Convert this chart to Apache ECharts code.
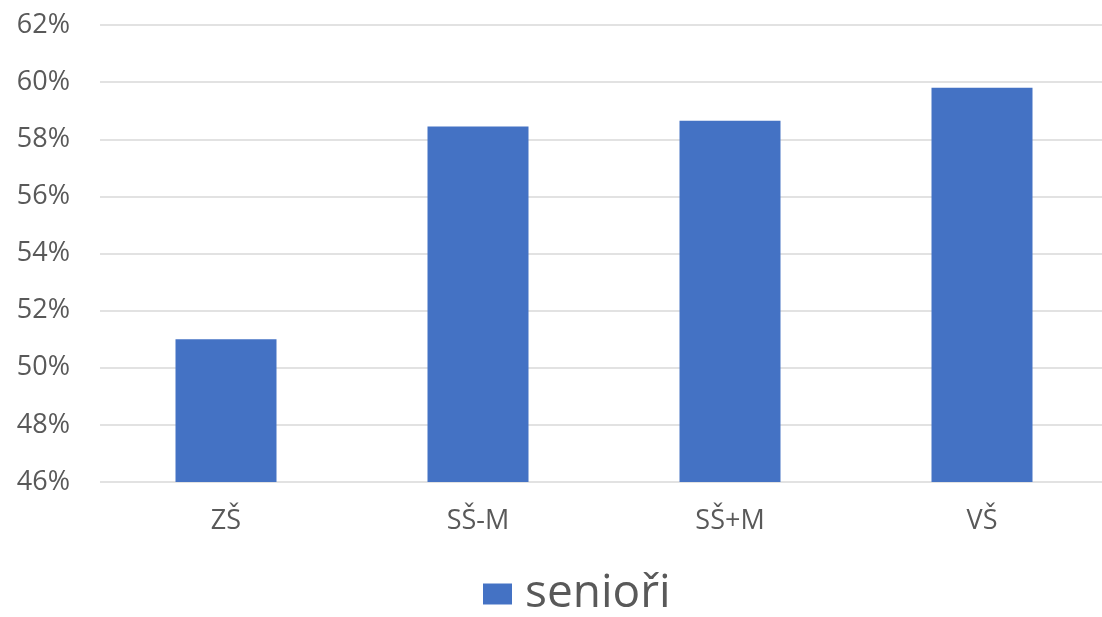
<!DOCTYPE html>
<html>
<head>
<meta charset="utf-8">
<script src="https://cdn.jsdelivr.net/npm/echarts@6/dist/echarts.min.js"></script>
<style>
  html, body { margin: 0; padding: 0; background: #ffffff; }
  #chart { width: 1102px; height: 617px; }
</style>
</head>
<body>
<div id="chart"></div>
<script>
  // kategorie podle vzdělání
  const categories = ['ZŠ', 'SŠ-M', 'SŠ+M', 'VŠ']
  // podíl seniorů (v %)
  const seniori = [51.0, 58.45, 58.65, 59.8]
  const seriesName = 'senioři'
  const yMin = 46
  const yMax = 62
  const yStep = 2

  const chart = echarts.init(document.getElementById('chart'))
  const labelFont = '"Open Sans", "DejaVu Sans", sans-serif'

  chart.setOption({
    animation: false,
    color: ['#4472C4'],
    grid: {
      left: 100,
      top: 25,
      width: 1008,
      height: 457,
      outerBoundsMode: 'none'
    },
    legend: {
      data: [seriesName],
      top: 566,
      left: 478,
      itemWidth: 29,
      itemHeight: 21,
      icon: 'rect',
      textStyle: {
        fontSize: 46,
        color: '#595959',
        fontFamily: labelFont,
        padding: [4, 0, 0, 8]
      }
    },
    xAxis: {
      type: 'category',
      data: categories,
      axisLine: { show: false },
      axisTick: { show: false },
      axisLabel: {
        margin: 26,
        fontSize: 27,
        color: '#595959',
        fontFamily: labelFont
      }
    },
    yAxis: {
      type: 'value',
      min: yMin,
      max: yMax,
      interval: yStep,
      axisLine: { show: false },
      axisTick: { show: false },
      splitLine: {
        lineStyle: { color: '#d9d9d9', width: 1.5 }
      },
      axisLabel: {
        margin: 30,
        fontSize: 27,
        color: '#595959',
        fontFamily: labelFont,
        formatter: function (v) { return v + '%' }
      }
    },
    series: [
      {
        name: seriesName,
        type: 'bar',
        barWidth: 101,
        data: seniori
      }
    ]
  })
</script>
</body>
</html>
